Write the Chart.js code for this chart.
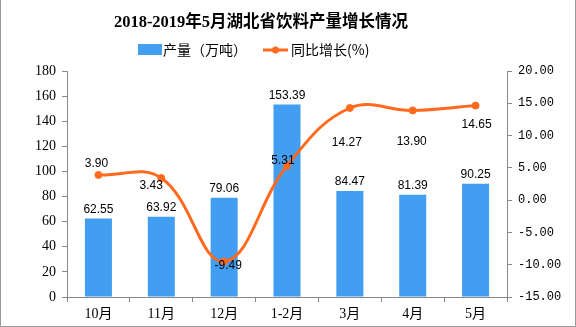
<!DOCTYPE html>
<html>
<head>
<meta charset="utf-8">
<script src="https://cdn.jsdelivr.net/npm/chart.js@4/dist/chart.umd.min.js"></script>
<style>
html,body{margin:0;padding:0;background:#fff;}
#wrap{width:576px;height:327px;position:relative;}
</style>
</head>
<body>
<div id="wrap"><canvas id="c" width="576" height="327"></canvas></div>
<script>
const titleText = '2018-2019年5月湖北省饮料产量增长情况';
const categories = ['10月', '11月', '12月', '1-2月', '3月', '4月', '5月'];
const production = [62.55, 63.92, 79.06, 153.39, 84.47, 81.39, 90.25];
const growth = [3.90, 3.43, -9.49, 5.31, 14.27, 13.90, 14.65];
const seriesNames = ['产量（万吨）', '同比增长(%)'];
const leftAxis = {min: 0, max: 180, step: 20};
const rightAxis = {min: -15, max: 20, step: 5};

const BLUE = '#419EF0';
const ORANGE = '#FF6A1E';
const AXIS = '#888888';

// label placement relative to each line point (style only)
const lineLabelShift = [[-2,-11],[-10,8],[4,4],[-4,-5],[-3,35],[-1,31],[1,19]];

const decorPlugin = {
  id: 'decor',
  afterDatasetsDraw(chart) {
    const ctx = chart.ctx;
    ctx.save();
    ctx.fillStyle = '#000';
    ctx.textAlign = 'center';
    ctx.textBaseline = 'middle';
    ctx.font = '12px "Liberation Sans", sans-serif';
    const barMeta = chart.getDatasetMeta(1);
    barMeta.data.forEach((el, i) => {
      ctx.fillText(production[i].toFixed(2), el.x, el.y - 9);
    });
    const lineMeta = chart.getDatasetMeta(0);
    lineMeta.data.forEach((el, i) => {
      const s = lineLabelShift[i];
      ctx.fillText(growth[i].toFixed(2), el.x + s[0], el.y + s[1]);
    });
    ctx.restore();
  },
  afterDraw(chart) {
    const ctx = chart.ctx;
    ctx.save();
    // frame
    ctx.strokeStyle = '#999';
    ctx.lineWidth = 1;
    ctx.beginPath();
    ctx.moveTo(0.5, 0);
    ctx.lineTo(0.5, 326.5);
    ctx.lineTo(575.5, 326.5);
    ctx.lineTo(575.5, 0);
    ctx.stroke();
    // title
    ctx.fillStyle = '#000';
    ctx.textAlign = 'center';
    ctx.textBaseline = 'middle';
    ctx.font = 'bold 16.5px "Liberation Serif", "Noto Sans CJK SC", serif';
    ctx.fillText(titleText, 261, 23);
    // legend
    ctx.textAlign = 'left';
    ctx.font = '14px "Noto Sans CJK SC", sans-serif';
    ctx.fillStyle = BLUE;
    ctx.fillRect(138, 44, 24, 11);
    ctx.fillStyle = '#000';
    ctx.fillText(seriesNames[0], 163, 50);
    ctx.strokeStyle = ORANGE;
    ctx.lineWidth = 3;
    ctx.beginPath();
    ctx.moveTo(263, 50);
    ctx.lineTo(288, 50);
    ctx.stroke();
    ctx.fillStyle = ORANGE;
    ctx.beginPath();
    ctx.arc(275.5, 50, 3.5, 0, Math.PI * 2);
    ctx.fill();
    ctx.fillStyle = '#000';
    ctx.fillText(seriesNames[1], 291, 50);
    ctx.restore();
  }
};

new Chart(document.getElementById('c'), {
  data: {
    labels: categories,
    datasets: [
      {
        type: 'line',
        label: seriesNames[1],
        data: growth,
        yAxisID: 'y1',
        borderColor: ORANGE,
        backgroundColor: ORANGE,
        borderWidth: 3,
        pointRadius: 3.5,
        pointBackgroundColor: ORANGE,
        pointBorderColor: ORANGE,
        pointBorderWidth: 1,
        tension: 0.4,
        fill: false,
        order: 0
      },
      {
        type: 'bar',
        label: seriesNames[0],
        data: production,
        yAxisID: 'y',
        backgroundColor: BLUE,
        borderWidth: 0,
        barPercentage: 0.43,
        categoryPercentage: 1.0,
        order: 1
      }
    ]
  },
  options: {
    responsive: false,
    animation: false,
    events: [],
    layout: {padding: {top: 71, left: 0, right: 0, bottom: 0}},
    plugins: {
      legend: {display: false},
      title: {display: false},
      tooltip: {enabled: false}
    },
    scales: {
      x: {
        offset: true,
        grid: {display: true, offset: true, drawOnChartArea: false, drawTicks: true, tickLength: 5, color: AXIS},
        border: {display: true, color: AXIS, width: 1},
        ticks: {color: '#000', padding: 4, maxRotation: 0, autoSkip: false,
          font: {family: '"Liberation Serif", "Noto Sans CJK SC", serif', size: 14}},
        afterFit(s) { s.height = 30; }
      },
      y: {
        position: 'left',
        min: leftAxis.min, max: leftAxis.max,
        grid: {display: true, drawOnChartArea: false, drawTicks: true, tickLength: 5, color: AXIS},
        border: {display: true, color: AXIS, width: 1},
        ticks: {stepSize: leftAxis.step, color: '#000', padding: 6,
          font: {family: '"Liberation Serif", serif', size: 14}},
        afterFit(s) { s.width = 67; }
      },
      y1: {
        position: 'right',
        min: rightAxis.min, max: rightAxis.max,
        grid: {display: true, drawOnChartArea: false, drawTicks: true, tickLength: 5, color: AXIS},
        border: {display: true, color: AXIS, width: 1},
        ticks: {stepSize: rightAxis.step, color: '#000', padding: 6,
          font: {family: '"Liberation Mono", monospace', size: 12},
          callback: v => Number(v).toFixed(2)},
        afterFit(s) { s.width = 69; }
      }
    }
  },
  plugins: [decorPlugin]
});
</script>
</body>
</html>
